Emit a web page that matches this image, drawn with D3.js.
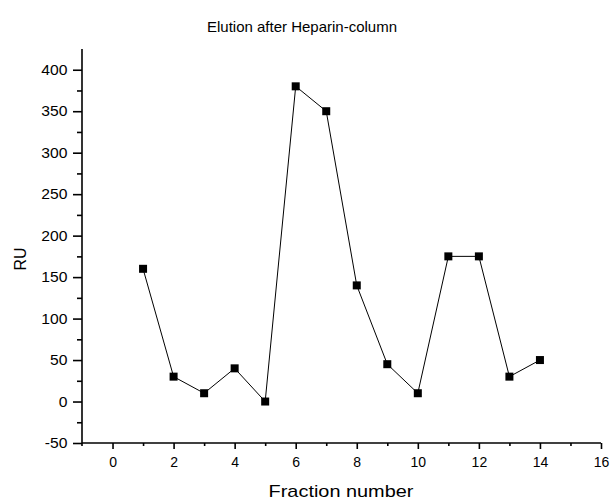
<!DOCTYPE html>
<html><head><meta charset="utf-8">
<script src="https://cdn.jsdelivr.net/npm/d3@7"></script>
<style>body{margin:0;background:#fff}svg{display:block}text{font-family:Arial,"Liberation Sans",sans-serif;fill:#000}</style>
</head><body><svg id="c" width="610" height="500"></svg>
<script>
const fractions = [1,2,3,4,5,6,7,8,9,10,11,12,13,14];
const ruValues = [160,30,10,40,0,380,350,140,45,10,175,175,30,50];
const xTicks = [0,2,4,6,8,10,12,14,16];
const yTicks = [-50,0,50,100,150,200,250,300,350,400];
const title = "Elution after Heparin-column";
const xLabel = "Fraction number";
const yLabel = "RU";

const svg = d3.select("#c");
const L = 82, R = 601, T = 49, B = 443;
const x = d3.scaleLinear().domain([-1,16]).range([L,R]);
const y = d3.scaleLinear().domain([-50,425]).range([B,T]);

const xMinor = d3.range(1,17,2);
const yMinor = d3.range(-25,425,50);
const FONT = "Arial, Liberation Sans, sans-serif";
const fmt = d => String(d);

const gx = svg.append("g").attr("transform",`translate(0,${B})`);
gx.append("line").attr("x1",L).attr("x2",R).attr("stroke","#000").attr("stroke-width",1.6);
{
  const a = gx.append("g").call(d3.axisBottom(x).tickValues(xTicks).tickFormat(fmt).tickSize(6).tickPadding(8));
  a.select(".domain").remove();
  a.selectAll("line").attr("stroke","#000").attr("stroke-width",1.6);
  a.selectAll("text").style("font-size","14px").attr("font-family",FONT);
  const m = gx.append("g").call(d3.axisBottom(x).tickValues(xMinor).tickSize(3).tickFormat(""));
  m.select(".domain").remove();
  m.selectAll("line").attr("stroke","#000").attr("stroke-width",1.6);
}

const gy = svg.append("g").attr("transform",`translate(${L},0)`);
gy.append("line").attr("y1",T).attr("y2",B+3).attr("stroke","#000").attr("stroke-width",1.6);
{
  const a = gy.append("g").call(d3.axisLeft(y).tickValues(yTicks).tickFormat(fmt).tickSize(9).tickPadding(4));
  a.select(".domain").remove();
  a.selectAll("line").attr("stroke","#000").attr("stroke-width",1.6);
  a.selectAll("text").style("font-size","14px").attr("font-family",FONT)
    .attr("x",null).attr("transform","translate(-14.5,0) scale(1.12,1)");
  const m = gy.append("g").call(d3.axisLeft(y).tickValues(yMinor).tickSize(5).tickFormat(""));
  m.select(".domain").remove();
  m.selectAll("line").attr("stroke","#000").attr("stroke-width",1.6);
}

const data = fractions.map((f,i)=>({f, v: ruValues[i]}));
svg.append("path").datum(data)
  .attr("fill","none").attr("stroke","#000").attr("stroke-width",1)
  .attr("d", d3.line().x(d=>x(d.f)).y(d=>y(d.v)));
svg.append("g").selectAll("rect").data(data).join("rect")
  .attr("x",d=>x(d.f)-4).attr("y",d=>y(d.v)-4).attr("width",8).attr("height",8).attr("fill","#000");

svg.append("text").attr("x",302).attr("y",32).attr("text-anchor","middle").style("font-size","15px").text(title);
svg.append("text").attr("transform","translate(341,497) scale(1.17,1)").attr("text-anchor","middle").style("font-size","17px").text(xLabel);
svg.append("text").attr("transform","translate(26,259) rotate(-90)").attr("text-anchor","middle").style("font-size","16px").text(yLabel);
</script></body></html>
